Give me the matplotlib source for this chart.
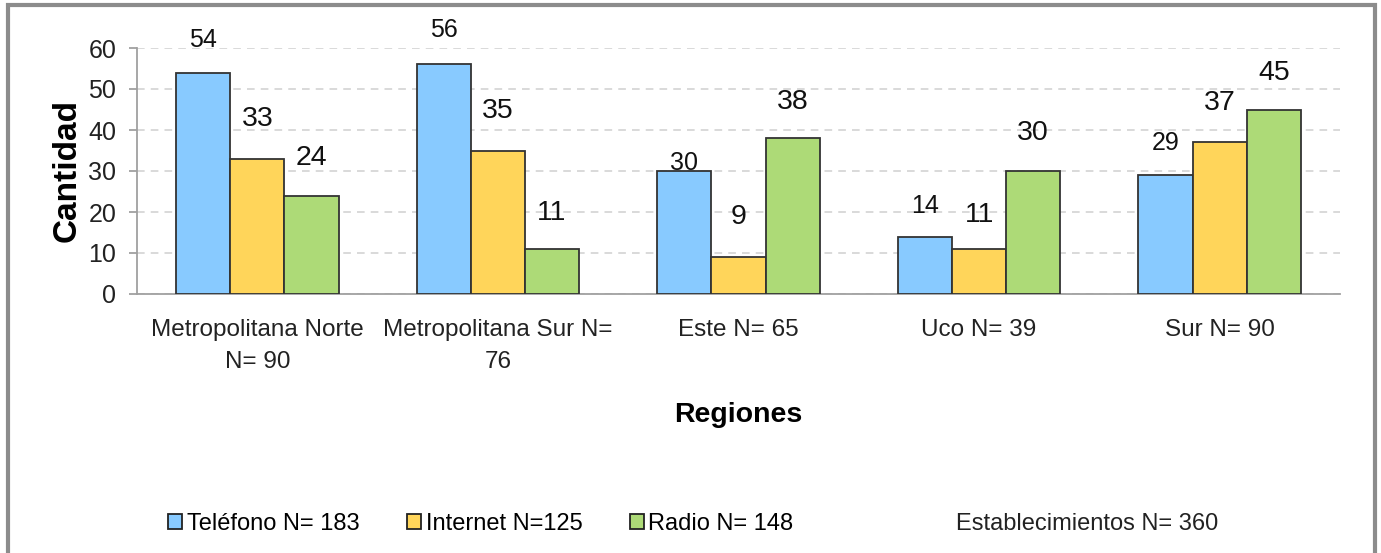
import matplotlib
matplotlib.use("Agg")
import matplotlib.pyplot as plt
from matplotlib.patches import Rectangle, Patch
from matplotlib import font_manager
import numpy as np

plt.rcParams['font.family'] = ['Liberation Sans', 'DejaVu Sans']

categories = ["Metropolitana Norte\nN= 90", "Metropolitana Sur N=\n76", "Este N= 65", "Uco N= 39", "Sur N= 90"]
telefono = [54, 56, 30, 14, 29]
internet = [33, 35, 9, 11, 37]
radio = [24, 11, 38, 30, 45]
series_names = ["Teléfono N= 183", "Internet N=125", "Radio N= 148"]
extra_legend = "Establecimientos N= 360"
y_ticks = [0, 10, 20, 30, 40, 50, 60]

colors = ["#88CAFF", "#FFD55A", "#ADDA77"]
names = {f.name for f in font_manager.fontManager.ttflist}
if "Liberation Sans Narrow" in names:
    label_family = ["Liberation Sans Narrow", "Liberation Sans"]
    label_sizes = [20.5, 23, 23]
else:
    label_family = ["Liberation Sans"]
    label_sizes = [18, 20.5, 20.5]
# label offsets above bar top (pixels) per series/category, mimicking the source
label_offsets = [[33, 34, 8, 31, 32],
                 [40, 39, 40, 34, 39],
                 [38, 36, 36, 38, 36]]

W, H = 1381, 553
fig = plt.figure(figsize=(W / 100, H / 100), dpi=100)
ax = fig.add_axes([137 / W, 1 - 294 / H, (1340 - 137) / W, (294 - 48) / H])

x = np.arange(len(categories))
bw = 0.225
data = [telefono, internet, radio]
for i, vals in enumerate(data):
    b = ax.bar(x + (i - 1) * bw, vals, bw, color=colors[i], edgecolor="#333333",
               linewidth=1.3, zorder=3, label=series_names[i])
    for j, rect in enumerate(b):
        ax.annotate(str(vals[j]),
                    (rect.get_x() + rect.get_width() / 2, rect.get_height()),
                    xytext=(0, label_offsets[i][j] * 0.72), textcoords="offset points",
                    ha="center", va="center", fontsize=label_sizes[i], color="#111111",
                    family=label_family)

ax.set_xlim(-0.5, len(categories) - 0.5)
ax.set_ylim(0, 60)
ax.set_yticks(y_ticks)
ax.yaxis.grid(True, linestyle=(0, (5, 4)), color="#D0D0D0", linewidth=1.1, zorder=0)
ax.set_axisbelow(True)
for s in ["top", "right"]:
    ax.spines[s].set_visible(False)
ax.spines["left"].set_color("#A0A0A0")
ax.spines["bottom"].set_color("#A0A0A0")
ax.spines["left"].set_linewidth(1.3)
ax.spines["bottom"].set_linewidth(1.3)
ax.tick_params(axis="y", length=6, width=1.3, color="#A0A0A0", pad=9, labelsize=18,
               labelcolor="#222222")
ax.tick_params(axis="x", length=0, pad=18, labelsize=17.5, labelcolor="#222222")
ax.set_xticks(x)
ax.set_xticklabels(categories, linespacing=1.6)

ax.set_ylabel("Cantidad", fontsize=24, fontweight="bold", va="center")
ax.yaxis.set_label_coords(-(137 - 67) / (1340 - 137), (294 - 170) / (294 - 48))
ax.set_xlabel("Regiones", fontsize=20.5, fontweight="bold", va="center")
ax.xaxis.set_label_coords((738 - 137) / (1340 - 137), -(415 - 294) / (294 - 48))

handles = [Patch(facecolor=colors[i], edgecolor="#222222", linewidth=1.3) for i in range(3)]
fig.legend(handles, series_names, loc="center left", bbox_to_anchor=(168 / W, 1 - 524 / H),
           ncol=3, frameon=False, fontsize=17, handlelength=0.6, handleheight=0.6,
           handletextpad=0.2, columnspacing=2.0, borderaxespad=0, borderpad=0)
fig.text(1087 / W, 1 - 524 / H, extra_legend, fontsize=17, ha="center", va="center", color="#222222")

fig.patches.append(Rectangle((8 / W, -0.05), (1375 - 8) / W, 1.05 - 5 / H,
                             transform=fig.transFigure, fill=False, edgecolor="#8C8C8C",
                             linewidth=3))

fig.savefig("out.png", dpi=100)
